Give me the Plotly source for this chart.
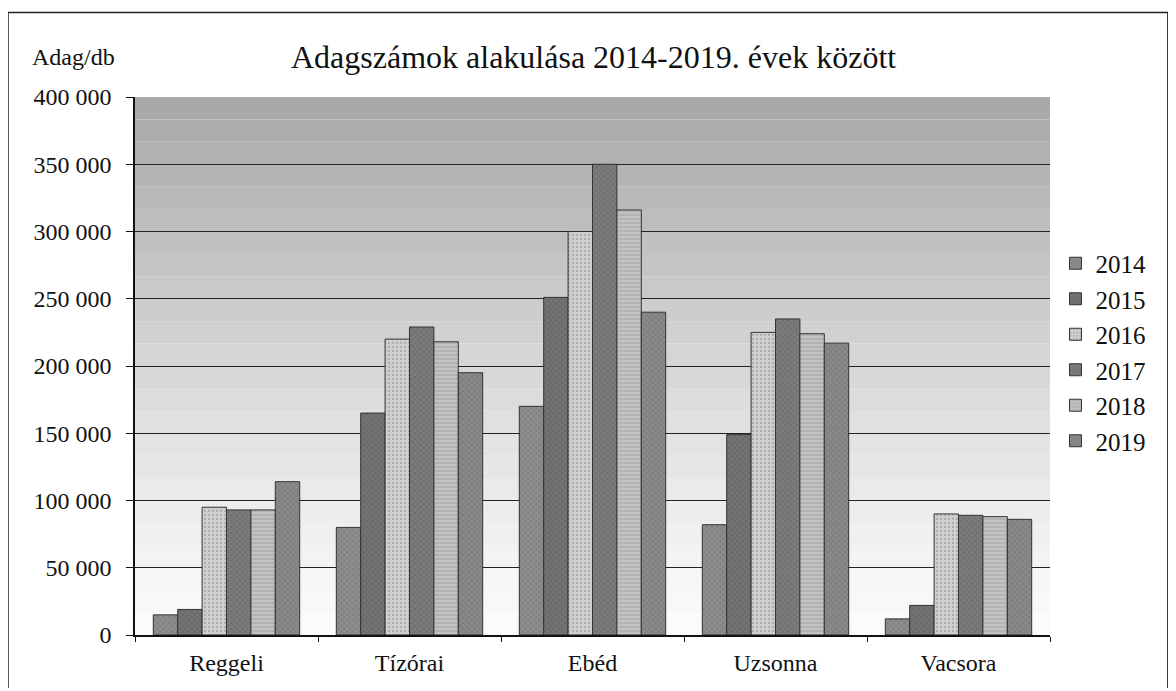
import plotly.graph_objects as go

categories = ["Reggeli", "Tízórai", "Ebéd", "Uzsonna", "Vacsora"]
years = ["2014", "2015", "2016", "2017", "2018", "2019"]
v2014 = [15000, 80000, 170000, 82000, 12000]
v2015 = [19000, 165000, 251000, 149000, 22000]
v2016 = [95000, 220000, 300000, 225000, 90000]
v2017 = [93000, 229000, 350000, 235000, 89000]
v2018 = [93000, 218000, 316000, 224000, 88000]
v2019 = [114000, 195000, 240000, 217000, 86000]
series = [v2014, v2015, v2016, v2017, v2018, v2019]

y_ticks = [0, 50000, 100000, 150000, 200000, 250000, 300000, 350000, 400000]
y_ticktext = ["0", "50 000", "100 000", "150 000", "200 000", "250 000", "300 000", "350 000", "400 000"]

fills = ["#8e8e8e", "#747474", "#cfcfcf", "#7c7c7c", "#c2c2c2", "#8a8a8a"]
pats = ["x", "x", ".", "x", "-", "x"]
pfg = ["#555555", "#444444", "#8a8a8a", "#4a4a4a", "#888888", "#555555"]

FONT = "Liberation Serif"

fig = go.Figure()
for name, vals, c, p, fg in zip(years, series, fills, pats, pfg):
    fig.add_trace(go.Bar(
        name=name, x=categories, y=vals,
        marker=dict(color=c, line=dict(color="#333333", width=1),
                    pattern=dict(shape=p, fgcolor=fg, size=4, solidity=0.25)),
    ))

# background gradient bands (plot area)
shapes = []
n = 24
for i in range(n):
    t = (i + 0.5) / n
    g = int(252 - 85 * (t ** 1.2))
    shapes.append(dict(type="rect", xref="paper", yref="paper",
                       x0=0, x1=1, y0=i / n, y1=(i + 1) / n,
                       fillcolor=f"rgb({g},{g},{g})", line=dict(width=0), layer="below"))
# outer border
shapes.append(dict(type="rect", xref="paper", yref="paper",
                   x0=-0.1388, x1=1.1288, y0=-0.3, y1=1.157,
                   line=dict(color="#222222", width=1.5), fillcolor="rgba(0,0,0,0)"))

fig.update_layout(
    width=1160, height=680,
    margin=dict(l=127, r=118, t=89, b=51),
    paper_bgcolor="white", plot_bgcolor="white",
    barmode="group", bargap=0.2, bargroupgap=0,
    font=dict(family=FONT, color="#111111", size=24),
    shapes=shapes,
    showlegend=True,
    legend=dict(x=1.006, y=0.526, xanchor="left", yanchor="middle",
                font=dict(family=FONT, size=25, color="#111111"),
                tracegroupgap=0, itemwidth=30, bgcolor="rgba(0,0,0,0)"),
    annotations=[
        dict(text="Adagszámok alakulása 2014-2019. évek között", xref="paper", yref="paper",
             x=0.501, y=1.074, xanchor="center", yanchor="middle", showarrow=False,
             font=dict(family=FONT, size=32, color="#111111")),
        dict(text="Adag/db", xref="paper", yref="paper",
             x=-0.115, y=1.074, xanchor="left", yanchor="middle", showarrow=False,
             font=dict(family=FONT, size=24, color="#111111")),
    ],
)
fig.update_yaxes(range=[0, 400000], tickvals=y_ticks, ticktext=y_ticktext,
                 showgrid=True, gridcolor="#222222", gridwidth=1,
                 showline=True, linecolor="#111111", linewidth=1.5,
                 ticks="outside", ticklen=7, tickcolor="#111111",
                 ticklabelstandoff=10,
                 tickfont=dict(family=FONT, size=24), zeroline=False)
fig.update_xaxes(showline=True, linecolor="#111111", linewidth=1.5,
                 ticks="outside", tickson="boundaries", ticklen=5, tickcolor="#111111",
                 ticklabelstandoff=5,
                 tickfont=dict(family=FONT, size=24), showgrid=False)

fig.write_html("out.html")
